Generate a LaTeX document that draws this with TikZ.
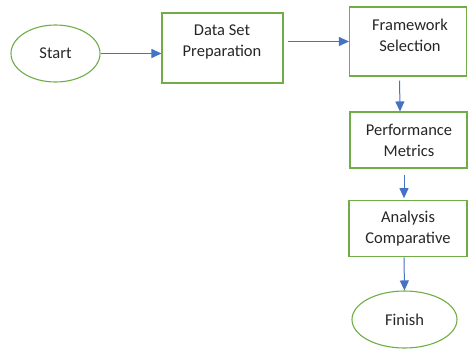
\documentclass[tikz,border=0pt]{standalone}
\usepackage{fontspec}
\setmainfont{Carlito}
\usetikzlibrary{shapes.geometric,arrows.meta}
\definecolor{boxgreen}{HTML}{70AD47}
\definecolor{arrowblue}{HTML}{4472C4}
\definecolor{txt}{HTML}{262626}
\begin{document}
\begin{tikzpicture}[x=1pt,y=-1pt,
  every node/.style={font=\fontsize{16.5}{21}\selectfont, text=txt},
  stepbox/.style={draw=boxgreen, line width=1.1pt, rectangle, inner sep=0pt},
  term/.style={draw=boxgreen, line width=1.1pt, ellipse, inner sep=0pt},
  txtnode/.style={align=center, inner sep=0pt},
  conn/.style={draw=arrowblue, line width=1pt, -{Triangle[length=10pt,width=9pt]}}]
\useasboundingbox (0,0) rectangle (468,349);
\node[term, minimum width=89pt, minimum height=57pt] (start) at (55.5,53.5) {Start};
\node[stepbox, minimum width=121pt, minimum height=70pt] (dsp) at (222.5,48) {};
\node[txtnode] (dspt) at (222,42) {Data Set\\Preparation};
\node[stepbox, minimum width=117pt, minimum height=69pt] (fs) at (408,41.5) {};
\node[txtnode] (fst) at (410,35) {Framework\\Selection};
\node[stepbox, minimum width=117pt, minimum height=56pt] (pm) at (408.5,140) {};
\node[txtnode] (pmt) at (409,140) {Performance\\Metrics};
\node[stepbox, minimum width=118pt, minimum height=56pt] (ac) at (408,228.7) {};
\node[txtnode] (act) at (408,228.5) {Analysis\\Comparative};
\node[term, minimum width=105pt, minimum height=57pt] (fin) at (404.5,319.5) {Finish};
\draw[conn] (start.east) -- (dsp.west |- start.east);
\draw[conn, shorten <=4pt] (dsp.east |- fs.west) -- (fs.west);
\draw[conn, shorten <=4pt] ([xshift=-8.5pt]fs.south) -- ([xshift=-8.5pt]pm.north);
\draw[conn, shorten <=6pt, shorten >=2pt] ([xshift=-4.5pt]pm.south) -- ([xshift=-4pt]ac.north);
\draw[conn] ([xshift=-4pt]ac.south) -- (fin.north);
\end{tikzpicture}
\end{document}
